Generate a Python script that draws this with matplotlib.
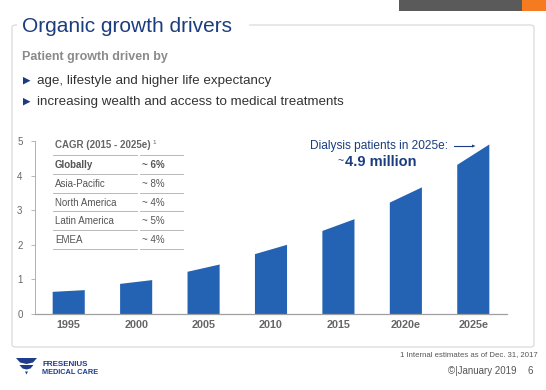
import matplotlib
matplotlib.use("Agg")
import matplotlib.pyplot as plt
from matplotlib.patches import Rectangle, Polygon, FancyBboxPatch
from matplotlib.lines import Line2D
from matplotlib.font_manager import FontProperties

FAMILY = ['Liberation Sans', 'DejaVu Sans']
plt.rcParams['font.family'] = FAMILY

# ---- data ----
years = ["1995", "2000", "2005", "2010", "2015", "2020e", "2025e"]
bar_start = [0.64, 0.87, 1.22, 1.73, 2.40, 3.22, 4.31]   # left edge height
bar_end = [0.69, 0.98, 1.43, 2.00, 2.74, 3.66, 4.90]     # right edge height
yticks = [0, 1, 2, 3, 4, 5]
cagr_regions = ["Globally", "Asia-Pacific", "North America", "Latin America", "EMEA"]
cagr_values = ["~ 6%", "~ 8%", "~ 4%", "~ 5%", "~ 4%"]

W, H = 546, 390
fig = plt.figure(figsize=(W / 100, H / 100), dpi=100)
fig.patch.set_facecolor("white")
renderer = fig.canvas.get_renderer()


def fx(x):
    return x / W


def fy(y):
    return 1 - y / H


def text_width(s, size, weight="normal"):
    fp = FontProperties(family=FAMILY, size=size, weight=weight)
    w, h, d = renderer.get_text_width_height_descent(s, fp, ismath=False)
    return w


def fit_size(s, width, base=10, weight="normal"):
    return base * width / text_width(s, base, weight)


def put(x0, x1, yc, s, weight="normal", cap=None, **kw):
    size = fit_size(s, x1 - x0, weight=weight)
    if cap is not None:
        size = min(size, cap)
    return fig.text(fx(x0), fy(yc), s, fontsize=size, fontweight=weight,
                    va="center", ha="left", **kw)


BLUE = "#2462b4"
NAVY = "#1b3d7f"
DGRAY = "#555555"

# frame
frame = FancyBboxPatch((fx(12), fy(347)), fx(534) - fx(12), fy(25) - fy(347),
                       boxstyle="round,pad=0,rounding_size=0.006",
                       transform=fig.transFigure, fill=False, ec="#d6d6d6", lw=0.8)
fig.add_artist(frame)
fig.add_artist(Rectangle((fx(17), fy(33)), fx(249) - fx(17), fy(17) - fy(33),
                         transform=fig.transFigure, fc="white", ec="none", zorder=2))

# top-right decoration
fig.add_artist(Rectangle((fx(399), fy(10.5)), fx(522) - fx(399), fy(0) - fy(10.5),
                         transform=fig.transFigure, fc="#5a5a5a", ec="none"))
fig.add_artist(Rectangle((fx(522), fy(10.5)), fx(546) - fx(522), fy(0) - fy(10.5),
                         transform=fig.transFigure, fc="#f47b20", ec="none"))

# title and text
t = put(21.5, 237, 26, "Organic growth drivers", cap=15, color=NAVY)
t.set_zorder(3)
put(22.5, 195, 57, "Patient growth driven by", weight="bold", cap=9, color="#8a8a8a")
for yy, x1, txt in [(80.7, 284, "age, lifestyle and higher life expectancy"),
                    (101.7, 362, "increasing wealth and access to medical treatments")]:
    fig.add_artist(Polygon([[fx(23), fy(yy - 3.8)], [fx(23), fy(yy + 3.8)], [fx(30.5), fy(yy)]],
                           closed=True, transform=fig.transFigure, fc=NAVY, ec="none"))
    put(37, x1, yy, txt, cap=9.6, color="#333333")

# ---- chart axes ----
ax = fig.add_axes([fx(35), fy(314), fx(507) - fx(35), fy(141) - fy(314)])
ax.set_facecolor("none")
half = 0.238
for i, (a, b) in enumerate(zip(bar_start, bar_end)):
    ax.fill([i - half, i - half, i + half, i + half], [0, a, b, 0],
            color=BLUE, lw=0, zorder=2)
ax.set_xlim(-0.5, len(years) - 0.5)
ax.set_ylim(0, 5)
ax.set_xticks(range(len(years)))
ax.set_xticklabels(years, fontsize=7.8, color="#666666", fontweight="bold")
ax.set_yticks(yticks)
ax.set_yticklabels([str(v) for v in yticks], fontsize=7, color="#666666")
ax.tick_params(axis="x", length=0, pad=4)
ax.tick_params(axis="y", length=3, width=0.6, color="#aaaaaa", pad=6)
for s in ["top", "right"]:
    ax.spines[s].set_visible(False)
ax.spines["left"].set_color("#b0b0b0")
ax.spines["left"].set_linewidth(0.7)
ax.spines["bottom"].set_color("#a0a0a0")
ax.spines["bottom"].set_linewidth(0.9)

# annotation
put(310, 451, 146, "Dialysis patients in 2025e:", cap=8.6, color=NAVY)
fig.add_artist(Line2D([fx(454), fx(472)], [fy(146), fy(146)], transform=fig.transFigure,
                      color=NAVY, lw=0.8))
fig.add_artist(Polygon([[fx(472), fy(144.5)], [fx(472), fy(147.5)], [fx(475.5), fy(146)]],
                       closed=True, transform=fig.transFigure, fc=NAVY, ec="none"))
fig.text(fx(343), fy(161.5), "~", fontsize=7.5, color=NAVY, va="center", ha="right")
put(345, 427, 161.5, "4.9 million", weight="bold", cap=10.5, color=NAVY)

# CAGR table
hdr = "CAGR (2015 - 2025e)"
hdr_t = put(55, 166, 145, hdr, weight="bold", cap=7, color="#666666")
hdr_w = text_width(hdr, hdr_t.get_fontsize(), "bold")
fig.text(fx(55 + hdr_w + 2), fy(142), "1", fontsize=4.5, color="#666666",
         va="center", ha="left")
line_ys = [155, 174, 193, 211.5, 230, 249]
row_ys = [165, 183.7, 202.5, 221.3, 240]
for ly in line_ys:
    fig.add_artist(Line2D([fx(53), fx(137)], [fy(ly), fy(ly)], transform=fig.transFigure,
                          color="#b8b8b8", lw=0.7))
    fig.add_artist(Line2D([fx(140), fx(183)], [fy(ly), fy(ly)], transform=fig.transFigure,
                          color="#b8b8b8", lw=0.7))
row_size = min(fit_size("North America", 67), 7)
for k, (reg, val, ry) in enumerate(zip(cagr_regions, cagr_values, row_ys)):
    bold = "bold" if k == 0 else "normal"
    fig.text(fx(55), fy(ry), reg, fontsize=row_size, color=DGRAY, fontweight=bold,
             va="center", ha="left")
    fig.text(fx(142), fy(ry), val, fontsize=row_size, color=DGRAY, fontweight=bold,
             va="center", ha="left")

# footer
fig.text(fx(538), fy(355), "1 Internal estimates as of Dec. 31, 2017", fontsize=5.6,
         color="#555555", va="center", ha="right")
fig.text(fx(517), fy(371), "\u00a9|January 2019", fontsize=7, color="#555555",
         va="center", ha="right")
fig.text(fx(533), fy(371), "6", fontsize=7, color="#555555", va="center", ha="right")

# logo
LOGO = "#1f3d8a"
fig.add_artist(Polygon([[fx(16), fy(358)], [fx(37), fy(358)], [fx(33), fy(362.5)],
                        [fx(26.5), fy(364)], [fx(20), fy(362.5)]],
                       closed=True, transform=fig.transFigure, fc=LOGO, ec="none"))
fig.add_artist(Polygon([[fx(19.5), fy(365)], [fx(33.5), fy(365)], [fx(30.5), fy(368.5)],
                        [fx(26.5), fy(369.5)], [fx(22.5), fy(368.5)]],
                       closed=True, transform=fig.transFigure, fc=LOGO, ec="none"))
fig.add_artist(Polygon([[fx(25), fy(371.5)], [fx(28), fy(371.5)], [fx(26.5), fy(374.5)]],
                       closed=True, transform=fig.transFigure, fc=LOGO, ec="none"))
put(42.5, 88, 364, "FRESENIUS", weight="bold", color=LOGO)
put(42.5, 98.5, 372, "MEDICAL CARE", weight="bold", color=LOGO)

fig.savefig("out.png", dpi=100, facecolor="white")
